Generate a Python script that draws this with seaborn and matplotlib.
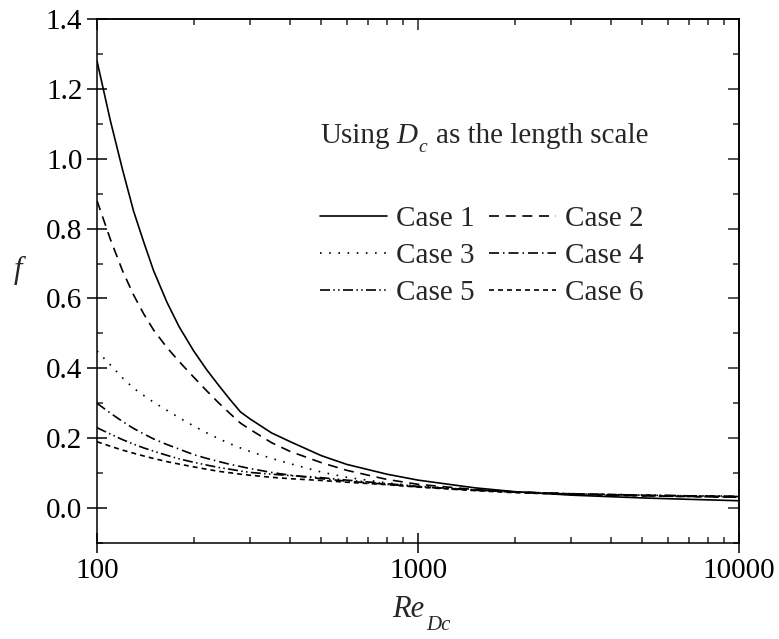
import numpy as np
import pandas as pd
import matplotlib
matplotlib.use("Agg")
import matplotlib.pyplot as plt
import seaborn as sns
from matplotlib.ticker import MultipleLocator, FixedLocator, LogLocator, NullFormatter

# ---- data ----
re_dc = [100, 110, 120, 130, 140, 150, 165, 180, 200, 220, 240, 260, 280, 300, 350,
         400, 500, 600, 800, 1000, 1500, 2000, 3000, 5000, 7000, 10000]
case1 = [1.28, 1.11, 0.97, 0.85, 0.76, 0.68, 0.59, 0.52, 0.45, 0.395, 0.35, 0.31, 0.275, 0.255, 0.215,
         0.19, 0.15, 0.125, 0.097, 0.080, 0.058, 0.047, 0.037, 0.029, 0.025, 0.021]
case2 = [0.88, 0.77, 0.68, 0.61, 0.555, 0.51, 0.46, 0.42, 0.375, 0.335, 0.30, 0.27, 0.243, 0.225, 0.187,
         0.162, 0.13, 0.108, 0.082, 0.068, 0.053, 0.046, 0.040, 0.035, 0.033, 0.031]
case3 = [0.45, 0.41, 0.373, 0.343, 0.322, 0.303, 0.28, 0.259, 0.235, 0.215, 0.198, 0.184, 0.172, 0.162, 0.142,
         0.127, 0.103, 0.088, 0.072, 0.063, 0.052, 0.046, 0.041, 0.037, 0.035, 0.034]
case4 = [0.30, 0.272, 0.248, 0.228, 0.212, 0.198, 0.182, 0.169, 0.153, 0.142, 0.133, 0.125, 0.119, 0.113, 0.102,
         0.094, 0.084, 0.077, 0.068, 0.061, 0.051, 0.046, 0.041, 0.037, 0.035, 0.034]
case5 = [0.23, 0.212, 0.196, 0.183, 0.172, 0.163, 0.151, 0.141, 0.131, 0.123, 0.116, 0.111, 0.106, 0.102, 0.097,
         0.093, 0.087, 0.080, 0.070, 0.062, 0.052, 0.046, 0.041, 0.037, 0.035, 0.033]
case6 = [0.19, 0.177, 0.166, 0.157, 0.149, 0.142, 0.133, 0.126, 0.118, 0.111, 0.105, 0.101, 0.097, 0.094, 0.088,
         0.084, 0.079, 0.074, 0.067, 0.060, 0.050, 0.044, 0.039, 0.035, 0.033, 0.031]
case_names = ["Case 1", "Case 2", "Case 3", "Case 4", "Case 5", "Case 6"]
x_ticks = [100, 1000, 10000]
x_ticklabels = ["100", "1000", "10000"]
y_ticks = [0.0, 0.2, 0.4, 0.6, 0.8, 1.0, 1.2, 1.4]

series = [case1, case2, case3, case4, case5, case6]
df = pd.DataFrame({
    "Re": np.tile(re_dc, len(series)),
    "f": np.concatenate(series),
    "Case": np.repeat(case_names, len(re_dc)),
})

sns.set_theme(style="ticks")
plt.rcParams.update({
    "font.family": ["Liberation Serif", "DejaVu Serif"],
    "axes.linewidth": 1.1,
    "axes.edgecolor": "black",
})

W, H = 779, 639
FS = 21
fig = plt.figure(figsize=(W / 100, H / 100), dpi=100)
ax = fig.add_axes([97 / W, 1 - 543 / H, 642 / W, 524 / H])

dash_styles = ["", (6, 4), (1.0, 4.5), (6, 2.4, 0.9, 2.4), (6, 2, 0.9, 2, 0.9, 2), (3, 2.4)]
sns.lineplot(data=df, x="Re", y="f", hue="Case", style="Case",
             palette=["black"] * 6, dashes=dash_styles, linewidth=1.2,
             ax=ax, legend=False, sort=False)

ax.set_xscale("log")
ax.set_xlim(100, 10000)
ax.set_ylim(-0.1, 1.4)
ax.xaxis.set_major_locator(FixedLocator(x_ticks))
ax.set_xticklabels(x_ticklabels)
ax.xaxis.set_minor_locator(LogLocator(base=10, subs=np.arange(2, 10)))
ax.xaxis.set_minor_formatter(NullFormatter())
ax.set_yticks(y_ticks)
ax.set_yticklabels([f"{v:.1f}" for v in y_ticks])
ax.yaxis.set_minor_locator(MultipleLocator(0.1))
ax.tick_params(which="major", direction="inout", length=15, width=1.1,
               labelsize=FS, colors="black", pad=3)
ax.tick_params(which="minor", direction="in", length=4, width=1.1)

# top/right ticks pointing inward only
secx = ax.secondary_xaxis("top")
secx.xaxis.set_major_locator(FixedLocator(x_ticks))
secx.xaxis.set_minor_locator(LogLocator(base=10, subs=np.arange(2, 10)))
secx.tick_params(which="major", direction="in", length=8, width=1.1, labeltop=False)
secx.tick_params(which="minor", direction="in", length=4, width=1.1, labeltop=False)
secx.xaxis.set_minor_formatter(NullFormatter())
secy = ax.secondary_yaxis("right")
secy.set_yticks(y_ticks)
secy.yaxis.set_minor_locator(MultipleLocator(0.1))
secy.tick_params(which="major", direction="in", length=8, width=1.1, labelright=False)
secy.tick_params(which="minor", direction="in", length=4, width=1.1, labelright=False)
for s in list(secx.spines.values()) + list(secy.spines.values()):
    s.set_linewidth(1.1)

ax.set_xlabel("")
ax.set_ylabel("f", fontsize=FS + 1, fontstyle="italic", rotation=0, va="center", ha="center")
ax.yaxis.set_label_coords(-0.123, 0.52)

renderer = fig.canvas.get_renderer()


def text_run(pieces, x_px, base_px, center=False):
    """pieces: (text, size, style, drop_px, gap_after_px)"""
    objs, x = [], 0.0
    for s, size, style, drop, gap in pieces:
        t = fig.text(0, 0, s, fontsize=size, fontstyle=style, ha="left", va="baseline")
        w = t.get_window_extent(renderer).width
        objs.append((t, x, drop))
        x += w + gap
    total = x - pieces[-1][4]
    x0 = x_px - total / 2 if center else x_px
    for t, dx, drop in objs:
        t.set_position(((x0 + dx) / W, 1 - (base_px + drop) / H))


text_run([("Using", FS, "normal", 0, 7),
          ("D", FS, "italic", 0, 1),
          ("c", 14, "italic", 9, 9),
          ("as the length scale", FS, "normal", 0, 0)], 320, 143)

text_run([("Re", FS + 1, "italic", 0, 2),
          ("Dc", 15, "italic", 13, 0)], 421, 617, center=True)

lines = ax.get_lines()[:6]
order = [0, 2, 4, 1, 3, 5]
ax.legend([lines[i] for i in order], [case_names[i] for i in order],
          ncol=2, frameon=False, fontsize=FS, loc="upper left",
          bbox_to_anchor=(320 / W, 1 - 206 / H), bbox_transform=fig.transFigure,
          borderpad=0, borderaxespad=0, handlelength=2.3, handletextpad=0.3,
          columnspacing=0.5, labelspacing=0.36)

fig.savefig("out.png", dpi=100)
